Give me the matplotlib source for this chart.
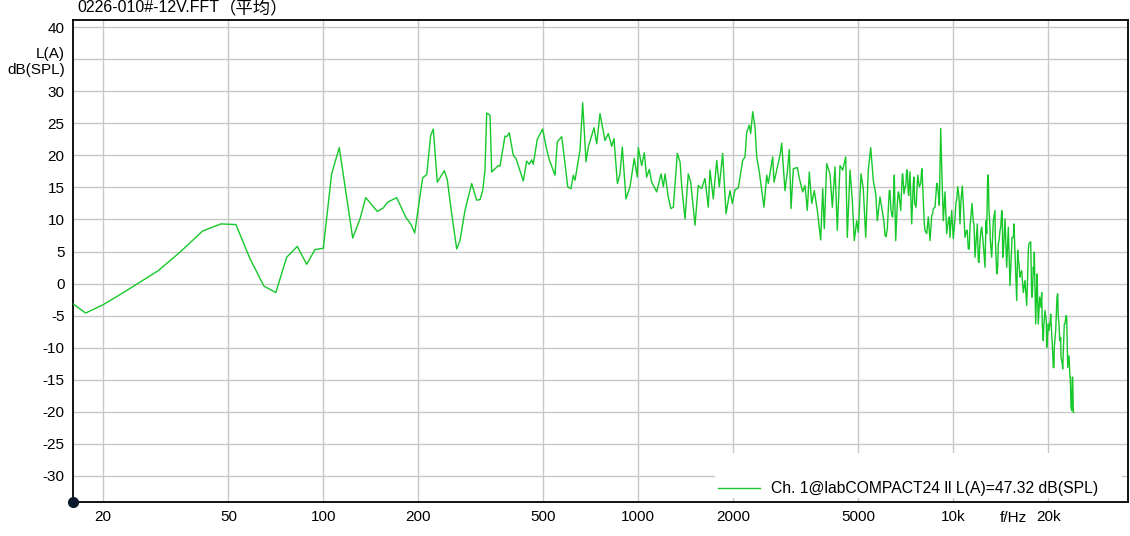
import matplotlib
matplotlib.use("Agg")
import matplotlib.pyplot as plt
from matplotlib.ticker import FixedLocator, FixedFormatter, NullLocator
from matplotlib.patches import Rectangle

plt.rcParams['font.family'] = ['Liberation Sans', 'Noto Sans CJK SC', 'DejaVu Sans']
plt.rcParams['axes.unicode_minus'] = False

# FFT 频谱（A 计权），从图上读取的点  (Hz, dB)
freq = [16.1, 17.6, 20.0, 23.2, 29.9, 35.1, 41.4, 47.3, 52.8, 58.5,
        64.8, 70.7, 76.5, 82.7, 88.6, 94.1, 100, 106.3, 112.4, 124.0,
        130.8, 136.4, 148.4, 155.1, 160.1, 171.0, 183.0, 189.5, 195.1, 206.8,
        213.0, 219.3, 223.5, 230.1, 242.2, 247.6, 255.6, 265.2, 271.6, 281.7,
        295.9, 306.9, 314.4, 320.7, 326.1, 330.2, 338.3, 342.5, 359.4, 363.9,
        377.4, 382.1, 389.5, 401.1, 409.0, 431.5, 442.2, 450.8, 458.7, 464.2,
        477.9, 497.1, 509.3, 521.8, 543.9, 553.2, 571.2, 577.9, 596.9, 611.4,
        621.9, 629.6, 645.0, 653.1, 666.1, 682.4, 694.0, 723.5, 737.8,
        755.9, 784.0, 803.1, 823.3, 837.3, 858.4, 874.8, 889.7, 914.0, 941.2,
        971.1, 992.7, 1000, 1025, 1045, 1063, 1084, 1103, 1144, 1181,
        1201, 1216, 1245, 1268, 1292, 1330, 1357, 1374, 1407, 1441,
        1467, 1514, 1550, 1589, 1628, 1668, 1689, 1730, 1774, 1808,
        1853, 1899, 1955, 1988, 2028, 2078, 2145, 2182, 2209, 2251,
        2274, 2308, 2347, 2377, 2422, 2465, 2506, 2557, 2587, 2671,
        2697, 2751, 2817, 2853, 2922, 2972, 3016, 3054, 3106, 3198,
        3245, 3326, 3383, 3440, 3491, 3553, 3620, 3701, 3794, 3850,
        3895, 3964, 4061, 4130, 4212, 4283, 4369, 4456, 4555, 4608,
        4701, 4780, 4850, 4936, 4994, 5094, 5180, 5272, 5373, 5468,
        5573, 5672, 5738]

level = [-3.2, -4.6, -3.3, -1.4, 2.0, 4.9, 8.2, 9.3, 9.2, 3.9,
         -0.4, -1.4, 4.1, 5.8, 3.0, 5.3, 5.5, 17.1, 21.2, 7.1,
         10.1, 13.4, 11.25, 11.8, 12.7, 13.4, 10.3, 9.3, 7.9, 16.5,
         17.0, 23.1, 24.1, 15.8, 17.6, 16.2, 10.9, 5.4, 6.7, 11.4,
         15.6, 13.0, 13.1, 14.5, 17.7, 26.6, 26.25, 17.4, 18.4, 18.3,
         23.0, 22.9, 23.5, 20.0, 19.5, 16.0, 19.1, 18.6, 19.3, 18.6,
         22.5, 24.1, 21.4, 19.3, 16.9, 22.1, 22.9, 21.0, 15.1, 14.8,
         16.9, 16.1, 19.2, 20.8, 28.2, 19.0, 21.3, 24.3, 21.8,
         26.5, 22.3, 23.4, 21.4, 22.6, 15.6, 17.1, 21.3, 13.2, 15.1,
         19.5, 16.6, 21.2, 18.4, 20.4, 16.6, 17.8, 15.8, 14.3, 17.1,
         15.1, 17.1, 13.5, 11.7, 11.9, 20.3, 19.0, 15.1, 10.1, 17.1,
         15.8, 9.1, 15.3, 14.8, 16.4, 11.9, 17.7, 13.2, 19.2, 15.1,
         20.3, 10.9, 14.5, 12.5, 14.6, 14.95, 19.2, 19.75, 23.6, 24.7,
         23.4, 26.8, 24.4, 19.75, 17.4, 14.5, 11.9, 16.9, 15.6, 19.75,
         15.8, 17.7, 20.0, 21.9, 14.5, 17.4, 20.9, 11.7, 17.9, 18.1,
         16.4, 14.3, 15.3, 11.4, 17.4, 12.5, 14.5, 11.4, 6.8, 14.8,
         8.55, 18.7, 17.1, 11.9, 18.2, 8.3, 18.4, 17.7, 19.75, 7.2,
         17.7, 13.0, 6.7, 9.8, 8.0, 17.1, 14.8, 7.2, 17.7, 21.2,
         16.1, 14.0, 9.8]

# 高频段读了两遍（更密），合并后按频率排序
hf_freq_a = [5853, 5970, 6071, 6174, 6296, 6422, 6483, 6564, 6690, 6809,
             6910, 7027, 7115, 7197, 7287, 7378, 7503, 7615, 7710, 7801,
             7939, 8032, 8090, 8235, 8330, 8434, 8603, 8749, 8897, 9029,
             9120, 9207, 9296, 9412, 9528, 9712, 9883, 10000, 10200, 10328,
             10503, 10681, 10891, 11076, 11240, 11465, 11634, 11719, 11918, 12067,
             12244, 12452, 12607, 12765, 12915, 13077, 13241, 13397, 13593, 13735,
             13897, 14071, 14247, 14349, 14593, 14775, 14950, 15136, 15358, 15585,
             15896, 16081, 16282, 16486, 16681, 16890, 17101, 17303, 17608,
             17816, 18039, 18265, 18480, 18750, 19081, 19307, 19548, 19793, 20025,
             20379, 20620, 20878, 21139, 21449, 21657, 21928, 22249, 22512, 22794,
             23079, 23298, 23470, 23643, 23868, 24044]
hf_level_a = [13.5, 10.9, 7.5, 8.55, 14.5, 10.4, 15.3, 6.7, 14.3, 11.4,
              17.1, 15.1, 17.7, 14.0, 17.4, 9.3, 16.6, 11.9, 16.9, 15.1,
              17.9, 13.0, 9.3, 7.8, 10.4, 6.7, 10.9, 11.9, 15.6, 12.2,
              24.2, 16.6, 9.8, 14.3, 7.8, 10.4, 11.4, 7.0, 12.7, 15.1,
              9.3, 15.2, 7.2, 8.3, 5.4, 12.5, 9.3, 4.1, 9.3, 3.3,
              8.3, 6.2, 2.55, 7.8, 16.9, 8.8, 4.1, 9.8, 7.2, 1.5,
              6.2, 8.3, 11.4, 4.1, 10.1, 2.55, 8.8, -0.3, 7.2, 9.3,
              -2.65, 3.6, 1.0, 2.0, -1.4, 0.5, -3.4, 5.2, 6.5,
              -2.1, 1.5, -6.3, 0.0, -3.2, -1.4, -8.9, -4.2, -9.95, -6.3,
              -4.75, -9.4, -13.1, -7.3, -1.6, -6.3, -8.4, -13.3, -6.3, -5.0,
              -13.1, -11.25, -14.6, -19.3, -14.6, -20.1]

hf_freq_b = [6026, 6114, 6264, 6342, 6403, 6496, 6641, 6724, 6889, 6975,
             7062, 7145, 7218, 7464, 7541, 7880, 7955, 8133, 8540, 8641,
             8858, 8963, 9641, 9761, 10125, 10252, 10426, 10578, 10789, 11027,
             11157, 11297, 11438, 11575, 11866, 12006, 12156, 12308, 12701, 12860,
             12982, 13108, 13565, 13836, 13968, 14142, 14309, 14454, 15324, 15505,
             15700, 16010, 16165, 16319, 17228, 17390, 17556, 17737, 17946, 18075,
             18437, 18613, 18806, 18984, 19164, 19363, 19733, 19939, 20126, 20318,
             20529, 20772, 20921, 21340, 21544, 21768, 21974, 22182, 22414, 22624,
             22909, 23523, 23764, 23935, 24110]
hf_level_b = [9.6, 7.3, 14.5, 11.4, 10.4, 16.9, 12.5, 14.0, 17.1, 14.0,
              15.1, 17.7, 13.75, 15.6, 12.5, 15.6, 17.9, 8.3, 10.6, 11.7,
              15.6, 14.0, 9.8, 7.2, 10.1, 13.0, 13.5, 13.0, 11.4, 8.3,
              5.4, 8.8, 11.9, 9.6, 7.8, 3.6, 6.7, 8.8, 9.8, 16.9,
              11.4, 6.7, 11.4, 2.55, 6.7, 8.8, 10.9, 5.7, 5.7, 7.2,
              4.65, 5.2, 3.1, 1.5, 1.5, 6.2, 6.5, -2.1, 2.55, 4.9,
              1.5, -6.3, -2.1, -3.7, -6.3, -6.8, -5.8, -7.9, -7.3, -5.8,
              -7.9, -13.1, -9.95, -2.1, -5.25, -8.9, -11.5, -12.5, -8.9, -6.3,
              -5.25, -14.6, -19.8, -14.6, -20.1]

xticks = [20, 50, 100, 200, 500, 1000, 2000, 5000, 10000, 20000]
xlabels = ['20', '50', '100', '200', '500', '1000', '2000', '5000', '10k', '20k']
yticks = list(range(-30, 45, 5))
ylabels = [str(v) for v in yticks]
ylabels[yticks.index(35)] = 'L(A)\ndB(SPL)'

legend_text = 'Ch. 1@labCOMPACT24 ll L(A)=47.32 dB(SPL)'
title = '0226-010#-12V.FFT'
title_cn = '（平均）'

hf = sorted(zip(hf_freq_a + hf_freq_b, hf_level_a + hf_level_b))
x_all = freq + [p[0] for p in hf]
y_all = level + [p[1] for p in hf]

fig = plt.figure(figsize=(11.3, 5.36), dpi=100)
ax = fig.add_axes([73 / 1130, 1 - 502 / 536, 1055 / 1130, 482 / 536])

ax.plot(x_all, y_all, color='#16c82a', lw=1.0, label=legend_text, zorder=3)

ax.set_xscale('log')
ax.set_xlim(16.05, 35860)
ax.set_ylim(-34.06, 41.1)

ax.xaxis.set_major_locator(FixedLocator(xticks))
ax.xaxis.set_major_formatter(FixedFormatter(xlabels))
ax.xaxis.set_minor_locator(NullLocator())
ax.yaxis.set_major_locator(FixedLocator(yticks))
ax.yaxis.set_major_formatter(FixedFormatter(ylabels))
ax.tick_params(length=0, labelsize=11, colors='black')
ax.tick_params(axis='x', pad=6)
ax.tick_params(axis='y', pad=6)
for lab in ax.get_yticklabels():
    lab.set_linespacing(1.25)

ax.set_axisbelow(True)
ax.grid(True, color='#c8c8c8', lw=1.0)
for s in ax.spines.values():
    s.set_color('black')
    s.set_linewidth(1.3)

# 图例底下的白块
ax.add_patch(Rectangle((642 / 1055, 4 / 482), 407 / 1055, 45 / 482,
                       transform=ax.transAxes, facecolor='white',
                       edgecolor='none', zorder=1))
ax.legend(loc='center left', bbox_to_anchor=(645 / 1055, 13 / 482),
          frameon=False, fontsize=11.3, handlelength=2.7, handletextpad=0.65,
          borderpad=0, borderaxespad=0)

ax.text(940 / 1055, -15.5 / 482, 'f/Hz', transform=ax.transAxes,
        ha='center', va='center', fontsize=11)
ax.plot([0], [0], 'o', color='#0b1a2c', ms=7, transform=ax.transAxes,
        clip_on=False, zorder=5)

t1 = fig.text(77 / 1130, 1 - 8 / 536, title, ha='left', va='center', fontsize=11.5)
ax.annotate(title_cn, xy=(1, 0.5), xycoords=t1, va='center', ha='left',
            fontsize=12.5, annotation_clip=False)

fig.savefig('out.png', dpi=100)
